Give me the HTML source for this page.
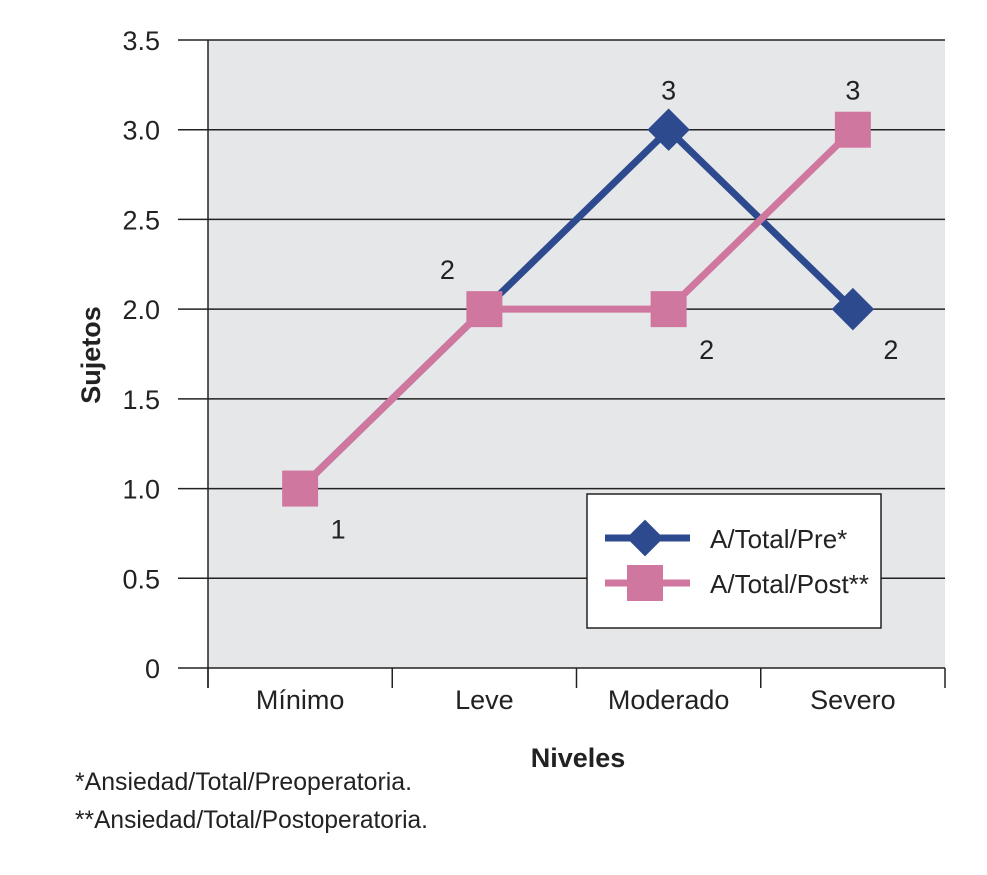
<!DOCTYPE html>
<html><head><meta charset="utf-8"><style>
body{margin:0;background:#fff;}
svg{display:block;font-family:"Liberation Sans Narrow","Liberation Sans",sans-serif;}
</style></head><body>
<svg id="chart" width="987" height="875" viewBox="0 0 987 875" xmlns="http://www.w3.org/2000/svg">
<rect x="208" y="40" width="737" height="628" fill="#e6e7e9"/>
<g id="grid"></g><g id="axes"></g><g id="series"></g>
<text transform="translate(100,355) rotate(-90)" text-anchor="middle" font-size="27" font-weight="bold" fill="#222">Sujetos</text>
<text x="578" y="767" text-anchor="middle" font-size="27" font-weight="bold" fill="#222">Niveles</text>
<text x="75" y="790" font-size="25" fill="#222" textLength="337" lengthAdjust="spacingAndGlyphs">*Ansiedad/Total/Preoperatoria.</text>
<text x="75" y="828" font-size="25" fill="#222" textLength="353" lengthAdjust="spacingAndGlyphs">**Ansiedad/Total/Postoperatoria.</text>
<g>
<rect x="587" y="494" width="294" height="134" fill="#fff" stroke="#222" stroke-width="1.5"/>
<line x1="605" y1="538" x2="690" y2="538" stroke="#2e4a8f" stroke-width="7"/>
<rect x="632" y="525" width="26" height="26" fill="#2e4a8f" transform="rotate(45 645 538)"/>
<text x="710" y="548" font-size="26" fill="#222">A/Total/Pre*</text>
<line x1="605" y1="583" x2="690" y2="583" stroke="#d077a0" stroke-width="7"/>
<rect x="627" y="565" width="36" height="36" fill="#d077a0"/>
<text x="710" y="593" font-size="26" fill="#222">A/Total/Post**</text>
</g>
</svg>
<script>
const categories=["Mínimo","Leve","Moderado","Severo"];
const preValues=[1,2,3,2];
const postValues=[1,2,2,3];
const yTicks=[0,0.5,1,1.5,2,2.5,3,3.5];
const yTickLabels=["0","0.5","1.0","1.5","2.0","2.5","3.0","3.5"];
const NS="http://www.w3.org/2000/svg";
const x0=208,x1=945,yTop=40,yBot=668;
const bw=(x1-x0)/categories.length;
function xs(i){return x0+bw*(i+0.5);}
function ys(v){return yBot-(v/3.5)*(yBot-yTop);}
function mk(tag,attrs,parent,text){const e=document.createElementNS(NS,tag);for(const k in attrs)e.setAttribute(k,attrs[k]);if(text!==undefined)e.textContent=text;parent.appendChild(e);return e;}
const grid=document.getElementById('grid'),axes=document.getElementById('axes'),series=document.getElementById('series');
yTicks.forEach((t,i)=>{
  const y=ys(t);
  const l=mk('line',{x1:178,x2:945,y1:y,y2:y,stroke:'#222','stroke-width':1.5},grid);
  
  
  const tx=mk('text',{x:160,y:y+10,'text-anchor':'end','font-size':27,fill:'#222'},axes,yTickLabels[i]);
  
  
});
const ya=mk('line',{x1:208,x2:208,y1:40,y2:688,stroke:'#222','stroke-width':1.5},axes);


for(let i=0;i<=categories.length;i++){
  const x=x0+bw*i;
  const t=mk('line',{x1:x,x2:x,y1:668,y2:688,stroke:'#222','stroke-width':1.5},axes);
  
  
}
categories.forEach((c,i)=>{
  const t=mk('text',{x:xs(i),y:709,'text-anchor':'middle','font-size':27,fill:'#222'},axes,c);
  
  
});
function line(vals,color,name){
  const p=mk('polyline',{points:vals.map((v,i)=>xs(i)+','+ys(v)).join(' '),fill:'none',stroke:color,'stroke-width':7},series);
  
  
}
line(preValues,'#2e4a8f','pre');
line(postValues,'#d077a0','post');
preValues.forEach((v,i)=>{
  if(v===postValues[i]) return;
  const r=mk('rect',{x:xs(i)-15,y:ys(v)-15,width:30,height:30,fill:'#2e4a8f',transform:'rotate(45 '+xs(i)+' '+ys(v)+')'},series);
  
  
});
postValues.forEach((v,i)=>{
  const r=mk('rect',{x:xs(i)-18,y:ys(v)-18,width:36,height:36,fill:'#d077a0'},series);
  
  
});
const labels=[[0,postValues[0],'below'],[1,postValues[1],'above'],[2,preValues[2],'above'],[2,postValues[2],'below'],[3,postValues[3],'above'],[3,preValues[3],'below']];
labels.forEach(([i,v,pos])=>{
  const x=pos==='above'?(i===1?xs(i)-37:xs(i)):xs(i)+38;
  const y=pos==='above'?ys(v)-30:ys(v)+50;
  const t=mk('text',{x:x,y:y,'text-anchor':'middle','font-size':27,fill:'#222'},series,String(v));
  
  
});
</script>
</body></html>
